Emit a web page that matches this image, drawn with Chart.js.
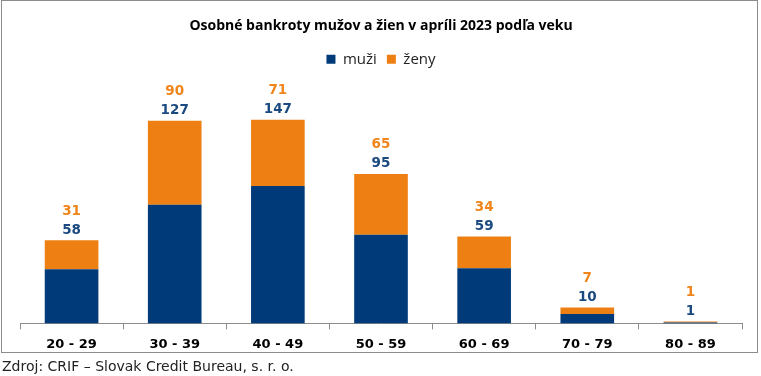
<!DOCTYPE html>
<html><head><meta charset="utf-8">
<script src="https://cdn.jsdelivr.net/npm/chart.js@4"></script>
<style>
html,body{margin:0;padding:0;background:#fff;width:761px;height:376px;overflow:hidden}
#frame{position:absolute;left:1px;top:0px;width:755px;height:351px;border:1px solid #8c8c8c;}
#wrap{position:absolute;left:0;top:0;width:755px;height:360px}
#src{position:absolute;left:2px;top:358px;font-family:"DejaVu Sans",Verdana,sans-serif;font-size:14px;color:#222;white-space:nowrap}
</style></head>
<body>
<div id="frame"><div id="wrap"><canvas id="c"></canvas></div></div>
<div id="src">Zdroj: CRIF – Slovak Credit Bureau, s. r. o.</div>
<script>
const categories = ["20 - 29","30 - 39","40 - 49","50 - 59","60 - 69","70 - 79","80 - 89"];
const muzi = [58,127,147,95,59,10,1];
const zeny = [31,90,71,65,34,7,1];
const seriesNames = ["muži","ženy"];
const chartTitle = "Osobné bankroty mužov a žien v apríli 2023 podľa veku";

const BLUE = "#003a78", ORANGE = "#ee7f13";
const BLUE_LBL = "#1a4a80", ORANGE_LBL = "#f0851c";

const labelPlugin = {
  id: "stackLabels",
  afterDatasetsDraw(chart) {
    const ctx = chart.ctx;
    const top = chart.getDatasetMeta(1).data;
    ctx.save();
    ctx.font = "bold 13.5px 'DejaVu Sans', Verdana, sans-serif";
    ctx.textAlign = "center";
    ctx.textBaseline = "middle";
    top.forEach((el, i) => {
      ctx.fillStyle = BLUE_LBL;
      ctx.fillText(String(muzi[i]), el.x, el.y - 10);
      ctx.fillStyle = ORANGE_LBL;
      ctx.fillText(String(zeny[i]), el.x, el.y - 29);
    });
    ctx.restore();
  }
};

new Chart(document.getElementById("c"), {
  type: "bar",
  data: {
    labels: categories,
    datasets: [
      {label: seriesNames[0], data: muzi, backgroundColor: BLUE, borderWidth: 0, categoryPercentage: 1, barPercentage: 0.52},
      {label: seriesNames[1], data: zeny, backgroundColor: ORANGE, borderWidth: 0, categoryPercentage: 1, barPercentage: 0.52}
    ]
  },
  options: {
    responsive: true,
    maintainAspectRatio: false,
    animation: false,
    layout: {padding: {left: 18, right: 15, top: 0, bottom: 2}},
    plugins: {
      title: {display: true, text: chartTitle, color: "#000",
        font: {family: "'Open Sans', sans-serif", size: 14, weight: "bold"},
        padding: {top: 17, bottom: 7}},
      legend: {display: true, position: "top",
        labels: {color: "#222", boxWidth: 9, boxHeight: 9, padding: 10,
          font: {family: "'Open Sans', sans-serif", size: 15}}},
      tooltip: {enabled: false}
    },
    scales: {
      x: {stacked: true,
        grid: {offset: true, drawOnChartArea: false, drawTicks: true, tickLength: 6, color: "#8c8c8c"},
        border: {display: true, color: "#8c8c8c"},
        ticks: {color: "#000", padding: 7, font: {family: "'DejaVu Sans', Verdana, sans-serif", size: 13, weight: "bold"}}
      },
      y: {stacked: true, display: false, min: 0, max: 264}
    }
  },
  plugins: [labelPlugin]
});
</script>
</body></html>
